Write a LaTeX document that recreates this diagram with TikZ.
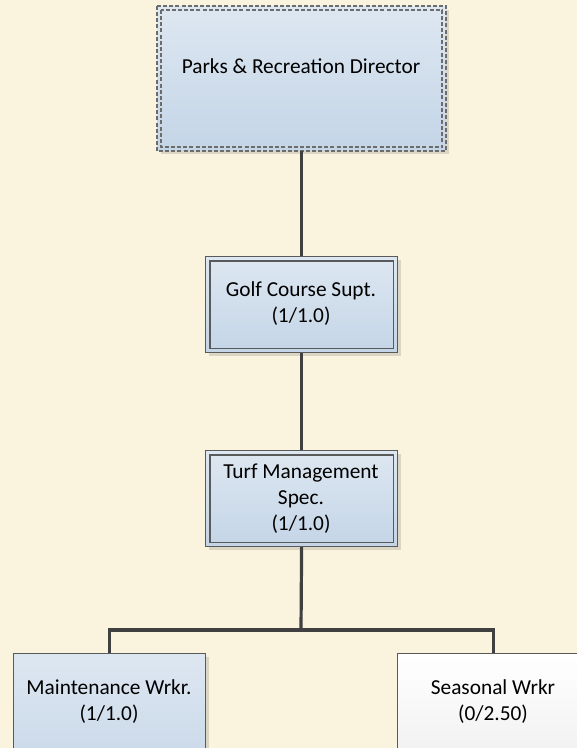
\documentclass[tikz,border=0pt]{standalone}
\usepackage{fontspec}
\setmainfont{Carlito}
\usetikzlibrary{shadows}
\definecolor{bg}{HTML}{FAF3DE}
\definecolor{btop}{HTML}{DDE7F1}
\definecolor{bbot}{HTML}{C4D5E7}
\definecolor{wtop}{HTML}{FFFFFF}
\definecolor{wbot}{HTML}{ECECEC}
\definecolor{edge}{HTML}{5A5A5A}
\definecolor{conn}{HTML}{404040}
\tikzset{
  box/.style={rectangle, draw=edge, line width=0.9pt, top color=btop, bottom color=bbot,
    drop shadow={shadow xshift=2.25pt, shadow yshift=-2.25pt, fill=black, opacity=0.12}},
  wbox/.style={box, top color=wtop, bottom color=wbot},
  lbl/.style={align=center, font=\fontsize{16pt}{19.5pt}\selectfont, text=black, inner sep=0pt},
  conn/.style={draw=conn, line width=2.4pt},
  inner/.style={draw=edge, line width=0.8pt},
  dashbox/.style={draw=gray!85!black, line width=1.1pt, dash pattern=on 3pt off 1.6pt}
}
\begin{document}
\begin{tikzpicture}[x=0.75pt, y=-0.75pt]
\useasboundingbox[fill=bg] (0,0) rectangle (577,748);
% top box
\node[box, draw=none, minimum width=216pt, minimum height=108pt, anchor=north west] (dir) at (157,6) {};
\draw[dashbox] (dir.north west) rectangle (dir.south east);
\draw[dashbox] ([shift={(4,4)}]dir.north west) rectangle ([shift={(-4,-4)}]dir.south east);
\node[lbl] (dirtxt) at (301,66) {Parks \& Recreation Director};
% golf
\node[box, minimum width=144pt, minimum height=72pt, anchor=north west] (golf) at (205,256) {};
\draw[inner] ([shift={(5,5)}]golf.north west) rectangle ([shift={(-5,-5)}]golf.south east);
\node[lbl] (golftxt) at (301,304) {Golf Course Supt.\\(1/1.0)};
% turf
\node[box, minimum width=144pt, minimum height=72pt, anchor=north west] (turf) at (205,450) {};
\draw[inner] ([shift={(5,5)}]turf.north west) rectangle ([shift={(-5,-5)}]turf.south east);
\node[lbl] (turftxt) at (301,499) {Turf Management\\Spec.\\(1/1.0)};
% bottom boxes
\node[box, minimum width=144pt, minimum height=105pt, anchor=north west] (maint) at (13,653) {};
\node[lbl] (mainttxt) at (109,702) {Maintenance Wrkr.\\(1/1.0)};
\node[wbox, minimum width=144pt, minimum height=105pt, anchor=north west] (seas) at (397,653) {};
\node[lbl] (seastxt) at (493,702) {Seasonal Wrkr\\(0/2.50)};
% connectors
\coordinate (junc) at (301,630);
\draw[conn] (dir.south) -- (golf.north);
\draw[conn] (golf.south) -- (turf.north);
\draw[conn] (turf.south) -- (junc);
\draw[conn] (maint.north) |- (junc) -| (seas.north);
\end{tikzpicture}
\end{document}
